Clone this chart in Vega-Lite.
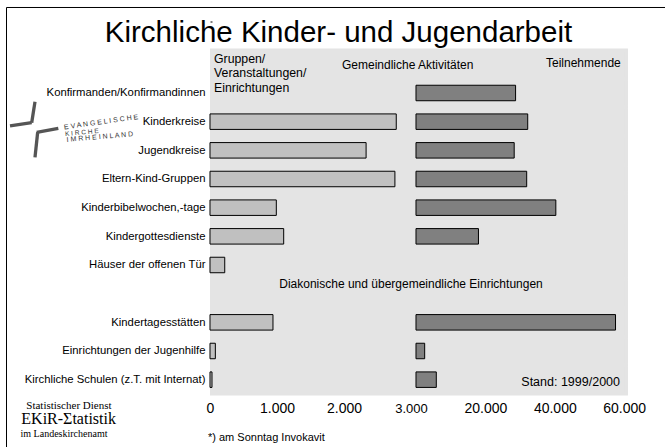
{
  "$schema": "https://vega.github.io/schema/vega-lite/v6.json",
  "width": 658.5,
  "height": 439.5,
  "autosize": "none",
  "padding": {"left": 6.5, "top": 7.5, "right": 0, "bottom": 0},
  "background": "white",
  "config": {
    "font": "Liberation Sans",
    "view": {"stroke": null, "fill": "white"},
    "axisY": {"offset": -205.5, "tickSize": 2, "tickColor": "black", "tickBand": "extent", "domain": false, "grid": false, "labelPadding": 5, "labelFontSize": 11.3, "labelColor": "black", "labelLimit": 300, "labelExpr": "indexof(datum.label, '_') == 0 ? '' : datum.label", "zindex": 1},
    "axisX": {"offset": -39, "ticks": false, "domain": false, "grid": false, "labelPadding": 0, "labelBaseline": "middle", "labelFontSize": 14, "labelColor": "black", "labelFlush": false, "labelOverlap": false, "labelExpr": "replace(format(datum.value, ','), ',', '.')", "zindex": 1}
  },
  "datasets": {
    "rows": [
      {"cat": "_h1", "g": null, "t": null},
      {"cat": "Konfirmanden/Konfirmandinnen", "g": null, "t": 28700},
      {"cat": "Kinderkreise", "g": 2780, "t": 32200},
      {"cat": "Jugendkreise", "g": 2330, "t": 28300},
      {"cat": "Eltern-Kind-Gruppen", "g": 2760, "t": 31900},
      {"cat": "Kinderbibelwochen,-tage", "g": 990, "t": 40300},
      {"cat": "Kindergottesdienste", "g": 1100, "t": 18000},
      {"cat": "Häuser der offenen Tür", "g": 220, "t": null},
      {"cat": "_h2", "g": null, "t": null},
      {"cat": "Kindertagesstätten", "g": 940, "t": 57500},
      {"cat": "Einrichtungen der Jugenhilfe", "g": 80, "t": 2500},
      {"cat": "Kirchliche Schulen (z.T. mit Internat)", "g": 30, "t": 5850}
    ]
  },
  "data": {"name": "rows"},
  "resolve": {"scale": {"x": "independent"}, "axis": {"x": "independent"}},
  "layer": [
    {
      "layer": [
        {
          "mark": {"type": "bar", "color": "#e4e4e4", "stroke": "#e4e4e4", "strokeWidth": 3},
          "encoding": {
            "y": {"field": "cat", "type": "nominal", "sort": null, "title": null,
              "scale": {"domain": ["_t", "_h1", "Konfirmanden/Konfirmandinnen", "Kinderkreise", "Jugendkreise", "Eltern-Kind-Gruppen", "Kinderbibelwochen,-tage", "Kindergottesdienste", "Häuser der offenen Tür", "_h2", "Kindertagesstätten", "Einrichtungen der Jugenhilfe", "Kirchliche Schulen (z.T. mit Internat)", "_b"], "paddingInner": 0, "paddingOuter": 0.6657, "align": 0.3624},
              "axis": {"tickOpacity": {"condition": {"test": "datum.value == '_t' || datum.value == '_b'", "value": 0}, "value": 1}}},
            "x": {"datum": 22, "type": "quantitative", "title": null,
              "scale": {"domain": [-3037.3, 6791.1], "nice": false, "zero": false},
              "axis": {"orient": "bottom", "values": [0, 1000, 2000, 3000], "labelFontSize": {"condition": {"test": "datum.value == 3000", "value": 13}, "value": 14}}},
            "x2": {"datum": 6216}
          }
        },
        {
          "mark": {"type": "bar", "size": 15.5, "fill": "#c0c0c0", "stroke": "black", "strokeWidth": 1},
          "encoding": {
            "y": {"field": "cat", "type": "nominal", "sort": null, "title": null},
            "x": {"field": "g", "type": "quantitative", "title": null}
          }
        },
        {
          "data": {"values": [{}]},
          "mark": {"type": "rule", "color": "black", "strokeWidth": 1, "yOffset": -28.17},
          "encoding": {"x": {"datum": -3037.3, "title": null}, "x2": {"datum": 6791.1}, "y": {"datum": "_t", "type": "nominal", "title": null}}
        },
        {
          "data": {"values": [{}]},
          "mark": {"type": "rule", "color": "black", "strokeWidth": 1, "yOffset": -28.17, "y2Offset": 40},
          "encoding": {"x": {"datum": -3037.3, "title": null}, "y": {"datum": "_t", "type": "nominal", "title": null}, "y2": {"datum": "_b"}}
        },
        {
          "data": {"values": [{}]},
          "mark": {"type": "text", "text": "Kirchliche Kinder- und Jugendarbeit", "fontSize": 29.5, "align": "center", "baseline": "alphabetic", "dy": -22.3, "color": "black"},
          "encoding": {"x": {"datum": 1918, "title": null}, "y": {"datum": "_h1", "type": "nominal", "title": null}}
        },
        {
          "data": {"values": [{}]},
          "mark": {"type": "text", "text": ["Gruppen/", "Veranstaltungen/", "Einrichtungen"], "fontSize": 12.3, "lineHeight": 14.3, "align": "left", "baseline": "alphabetic", "dy": -1.3, "color": "black"},
          "encoding": {"x": {"datum": 60, "title": null}, "y": {"datum": "_h1", "type": "nominal", "title": null}}
        },
        {
          "data": {"values": [{}]},
          "mark": {"type": "text", "text": "Gemeindliche Aktivitäten", "fontSize": 12, "align": "left", "baseline": "alphabetic", "dy": 4.2, "color": "black"},
          "encoding": {"x": {"datum": 1970, "title": null}, "y": {"datum": "_h1", "type": "nominal", "title": null}}
        },
        {
          "data": {"values": [{}]},
          "mark": {"type": "text", "text": "Diakonische und übergemeindliche Einrichtungen", "fontSize": 12, "align": "center", "baseline": "middle", "dy": -9.2, "color": "black"},
          "encoding": {"x": {"datum": 3000, "title": null}, "y": {"datum": "_h2", "type": "nominal", "title": null}}
        },
        {
          "data": {"values": [{}]},
          "mark": {"type": "text", "text": "*) am Sonntag Invokavit", "fontSize": 11, "align": "left", "baseline": "middle", "dy": 58.3, "color": "black"},
          "encoding": {"x": {"datum": -30, "title": null}, "y": {"datum": "Kirchliche Schulen (z.T. mit Internat)", "type": "nominal", "title": null}}
        },
        {
          "data": {"values": [{}]},
          "mark": {"type": "text", "text": "Statistischer Dienst", "font": "Liberation Serif", "fontSize": 11, "align": "center", "baseline": "middle", "dy": 26.3, "color": "black"},
          "encoding": {"x": {"datum": -2106, "title": null}, "y": {"datum": "Kirchliche Schulen (z.T. mit Internat)", "type": "nominal", "title": null}}
        },
        {
          "data": {"values": [{}]},
          "mark": {"type": "text", "text": "EKiR-Σtatistik", "font": "Liberation Serif", "fontSize": 16, "align": "center", "baseline": "middle", "dy": 39.3, "color": "black"},
          "encoding": {"x": {"datum": -2110, "title": null}, "y": {"datum": "Kirchliche Schulen (z.T. mit Internat)", "type": "nominal", "title": null}}
        },
        {
          "data": {"values": [{}]},
          "mark": {"type": "text", "text": "im Landeskirchenamt", "font": "Liberation Serif", "fontSize": 10, "align": "center", "baseline": "middle", "dy": 54.3, "color": "black"},
          "encoding": {"x": {"datum": -2179, "title": null}, "y": {"datum": "Kirchliche Schulen (z.T. mit Internat)", "type": "nominal", "title": null}}
        },
        {
          "data": {"values": [{}]},
          "mark": {"type": "text", "text": "E V A N G E L I S C H E", "fontSize": 7, "align": "left", "baseline": "alphabetic", "angle": 352, "dy": 7.8, "color": "#333"},
          "encoding": {"x": {"datum": -2190, "title": null}, "y": {"datum": "Kinderkreise", "type": "nominal", "title": null}}
        },
        {
          "data": {"values": [{}]},
          "mark": {"type": "text", "text": "K I R C H E", "fontSize": 6.5, "align": "left", "baseline": "alphabetic", "angle": 355, "dy": 14.3, "color": "#333"},
          "encoding": {"x": {"datum": -2179, "title": null}, "y": {"datum": "Kinderkreise", "type": "nominal", "title": null}}
        },
        {
          "data": {"values": [{}]},
          "mark": {"type": "text", "text": "I M  R H E I N L A N D", "fontSize": 7, "align": "left", "baseline": "alphabetic", "angle": 355, "dy": 20.3, "color": "#333"},
          "encoding": {"x": {"datum": -2164, "title": null}, "y": {"datum": "Kinderkreise", "type": "nominal", "title": null}}
        },
        {
          "data": {"values": [{}]},
          "mark": {"type": "rule", "color": "#555", "strokeWidth": 3.3, "yOffset": 8.7, "y2Offset": 1},
          "encoding": {"x": {"datum": -2612, "title": null}, "x2": {"datum": -2661}, "y": {"datum": "Konfirmanden/Konfirmandinnen", "type": "nominal", "title": null}, "y2": {"datum": "Kinderkreise"}}
        },
        {
          "data": {"values": [{}]},
          "mark": {"type": "rule", "color": "#555", "strokeWidth": 3.3, "yOffset": 4.3, "y2Offset": 1},
          "encoding": {"x": {"datum": -2985, "title": null}, "x2": {"datum": -2661}, "y": {"datum": "Kinderkreise", "type": "nominal", "title": null}, "y2": {"datum": "Kinderkreise"}}
        },
        {
          "data": {"values": [{}]},
          "mark": {"type": "rule", "color": "#555", "strokeWidth": 3.3, "yOffset": 10.6, "y2Offset": 6.6},
          "encoding": {"x": {"datum": -2587, "title": null}, "x2": {"datum": -2264}, "y": {"datum": "Kinderkreise", "type": "nominal", "title": null}, "y2": {"datum": "Kinderkreise"}}
        },
        {
          "data": {"values": [{}]},
          "mark": {"type": "rule", "color": "#555", "strokeWidth": 3.3, "yOffset": 10.6, "y2Offset": 7},
          "encoding": {"x": {"datum": -2572, "title": null}, "x2": {"datum": -2612}, "y": {"datum": "Kinderkreise", "type": "nominal", "title": null}, "y2": {"datum": "Jugendkreise"}}
        }
      ]
    },
    {
      "layer": [
        {
          "mark": {"type": "bar", "size": 15.5, "fill": "#808080", "stroke": "black", "strokeWidth": 1},
          "encoding": {
            "y": {"field": "cat", "type": "nominal", "sort": null, "title": null},
            "x": {"field": "t", "type": "quantitative", "title": null,
              "scale": {"domain": [-118011.5, 71758.0], "nice": false, "zero": false},
              "axis": {"orient": "bottom", "values": [20000, 40000, 60000]}}
          }
        },
        {
          "data": {"values": [{}]},
          "mark": {"type": "text", "text": "Teilnehmende", "fontSize": 12, "align": "right", "baseline": "alphabetic", "dy": 2.2, "color": "black"},
          "encoding": {"x": {"datum": 59000, "title": null}, "y": {"datum": "_h1", "type": "nominal", "title": null}}
        },
        {
          "data": {"values": [{}]},
          "mark": {"type": "text", "text": "Stand: 1999/2000", "fontSize": 12.5, "align": "right", "baseline": "middle", "dy": 2.3, "color": "black"},
          "encoding": {"x": {"datum": 58790, "title": null}, "y": {"datum": "Kirchliche Schulen (z.T. mit Internat)", "type": "nominal", "title": null}}
        }
      ]
    }
  ]
}
